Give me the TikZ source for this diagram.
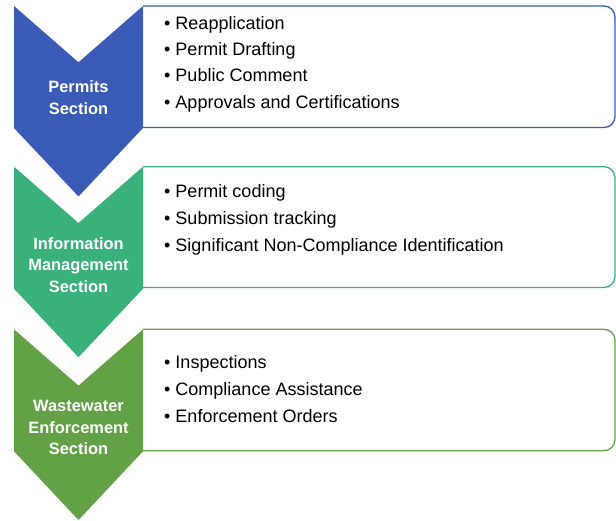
\documentclass[tikz,border=0pt]{standalone}
\usepackage{fontspec}
\setmainfont{Liberation Sans}
\definecolor{permblue}{RGB}{58,91,181}
\definecolor{infogreen}{RGB}{58,176,123}
\definecolor{wwgreen}{RGB}{99,161,71}
\begin{document}
\begin{tikzpicture}[x=1pt,y=-1pt,
    section/.style={text=white,font=\fontsize{16.4}{21.5}\selectfont\bfseries,align=center,inner sep=0pt},
    item/.style={anchor=base west,font=\fontsize{18}{20}\selectfont,inner sep=0pt},
    listbox/.style={line width=1.3pt,rounded corners=11pt}]
\useasboundingbox (0,0) rectangle (616,521);

% permits
\fill[permblue] (14,6) -- (78.5,62.3) -- (143,6) -- (143,128) -- (78.5,196.5) -- (14,128) -- cycle;
\draw[listbox,permblue] (143,6) -- (615,6) -- (615,127.5) -- (143,127.5);
\node[section] (perm) at (78.5,97.5) {Permits\\Section};
\node[item] (perm1) at (164,29.3) {• Reapplication};
\node[item] (perm2) at (164,55.6) {• Permit Drafting};
\node[item] (perm3) at (164,81.9) {• Public Comment};
\node[item] (perm4) at (164,108.3) {• Approvals and Certifications};

% information management
\fill[infogreen] (14,166.7) -- (78.5,223) -- (143,166.7) -- (143,288.7) -- (78.5,357.2) -- (14,288.7) -- cycle;
\draw[listbox,infogreen] (143,166.7) -- (615,166.7) -- (615,287.5) -- (143,287.5);
\node[section] (info) at (78.5,265) {Information\\Management\\Section};
\node[item] (info1) at (164,198) {• Permit coding};
\node[item] (info2) at (164,224.6) {• Submission tracking};
\node[item] (info3) at (164,251.2) {• Significant Non-Compliance Identification};

% wastewater enforcement
\fill[wwgreen] (14,329.3) -- (78.5,385.6) -- (143,329.3) -- (143,451.3) -- (78.5,520) -- (14,451.3) -- cycle;
\draw[listbox,wwgreen] (143,329.3) -- (615,329.3) -- (615,450.7) -- (143,450.7);
\node[section] (ww) at (78.5,427.7) {Wastewater\\Enforcement\\Section};
\node[item] (ww1) at (164,369) {• Inspections};
\node[item] (ww2) at (164,395.6) {• Compliance Assistance};
\node[item] (ww3) at (164,422.8) {• Enforcement Orders};
\end{tikzpicture}
\end{document}
